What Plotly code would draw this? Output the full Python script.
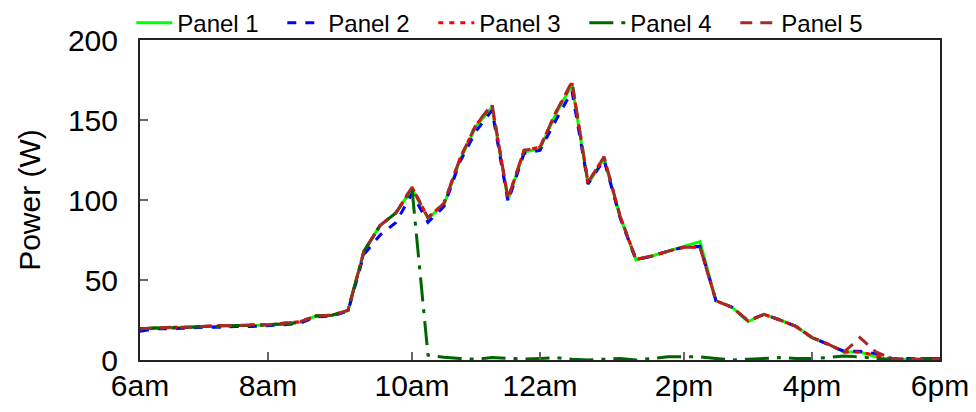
import plotly.graph_objects as go

# x axis: sample index (0..50), ticks at the sample index of each labelled hour
sample_idx = list(range(51))
tick_idx = [0, 8, 17, 25, 34, 42, 50]
tick_labels = ["6am", "8am", "10am", "12am", "2pm", "4pm", "6pm"]

panel1 = [19.5, 20, 20, 20.5, 21, 21, 21.5, 21.5, 22, 22.5,
          23.5, 27.5, 28, 31, 68, 84, 92, 107, 88.5, 97,
          125, 146, 158, 100, 130, 132, 154, 172, 110, 126,
          90, 62.5, 65, 68, 71, 74, 37, 33, 24, 28.5,
          25, 21, 14, 10, 5, 5, 2, 0, 0.5, 0.5, 0.5]

panel2 = [18, 19.5, 19.5, 20, 20.5, 20.5, 21, 21, 21.5, 22,
          23, 27, 27.5, 30.5, 66, 78, 86, 104, 86, 96,
          124, 143, 156, 99, 129, 131, 150, 168, 110, 125,
          89, 62.5, 65, 68, 70.5, 71, 37, 33, 24.5, 28.5,
          25, 21, 14, 10, 5.5, 5.5, 4, 1, 1, 0.5, 0.5]

panel3 = [19.5, 20, 20.5, 20.5, 21, 21.5, 21.5, 22, 22, 23,
          24, 27.5, 28, 31, 68, 84, 92, 108, 89, 98,
          126, 147, 159, 101, 131, 133, 155, 173, 111, 127,
          90, 63, 65, 68, 70.5, 70.5, 37, 33, 24.5, 28.5,
          25, 21, 14, 10, 5, 5, 3, 0.5, 0.5, 0.5, 0.5]

panel4 = [19.5, 20, 20, 20.5, 21, 21, 21.5, 21.5, 22, 22.5,
          23.5, 27.5, 28, 31, 68, 84, 92, 107, 3, 1.7,
          1, 0.5, 1.5, 1, 0.6, 1, 1.5, 0.5, 0, 0.5,
          1, 0, 1, 2, 2, 2, 1, 0, 0.5, 1,
          1.5, 1, 1, 1.5, 2.5, 2, 1, 0, 0.5, 1, 1]

panel5 = [19.5, 20, 20.5, 20.5, 21, 21.5, 21.5, 22, 22, 23,
          24, 27.5, 28, 31, 68, 84, 92, 108, 89, 98,
          126, 147, 160, 101, 131, 133, 155, 174, 111, 127,
          90, 63, 65, 68, 70.5, 70.5, 37, 33, 24.5, 28.5,
          25, 21, 14, 10, 5, 14, 5, 1, 0.5, 0.5, 0.5]

names = ["Panel 1", "Panel 2", "Panel 3", "Panel 4", "Panel 5"]
series = [panel1, panel2, panel3, panel4, panel5]
colors = ["#00ff00", "#0000ff", "#ff0000", "#006400", "#a52a2a"]
dashes = ["solid", "9px,9px", "5px,6px", "24px,8px,4px,8px", "12px,8px"]

fig = go.Figure()
for name, ys, c, d in zip(names, series, colors, dashes):
    fig.add_trace(go.Scatter(
        x=sample_idx, y=ys, name=name, mode="lines",
        line=dict(color=c, width=3, dash=d),
    ))

font_family = "Liberation Sans, Arial, Helvetica, sans-serif"

# the page adds an 8px body margin, so the figure is 8px smaller each way
fig.update_layout(
    width=968, height=404,
    margin=dict(l=132, r=36, t=32, b=52, autoexpand=False),
    paper_bgcolor="white", plot_bgcolor="white",
    font=dict(family=font_family, size=30, color="black"),
    showlegend=True,
    legend=dict(
        orientation="h", x=0.461, xanchor="center", y=0.982, yanchor="bottom",
        font=dict(size=24, family=font_family, color="black"),
        bgcolor="rgba(0,0,0,0)", itemwidth=36,
        entrywidth=100, entrywidthmode="pixels",
    ),
    xaxis=dict(
        range=[0, 50], tickmode="array", tickvals=tick_idx, ticktext=tick_labels,
        showgrid=False, zeroline=False, showline=True, linecolor="#222",
        linewidth=2, mirror=True, ticks="inside", ticklen=8, tickcolor="#666",
        tickwidth=1.5, tickfont=dict(size=30), automargin=False,
        ticklabelstandoff=-2,
    ),
    yaxis=dict(
        range=[0, 200], tickvals=[0, 50, 100, 150, 200],
        showgrid=False, zeroline=False, showline=True, linecolor="#222",
        linewidth=2, mirror=True, ticks="inside", ticklen=8, tickcolor="#666",
        tickwidth=1.5, tickfont=dict(size=30), ticklabelstandoff=14,
        automargin=False,
        title=dict(text="Power (W)", font=dict(size=30), standoff=18),
    ),
)

fig.write_html("out.html")
